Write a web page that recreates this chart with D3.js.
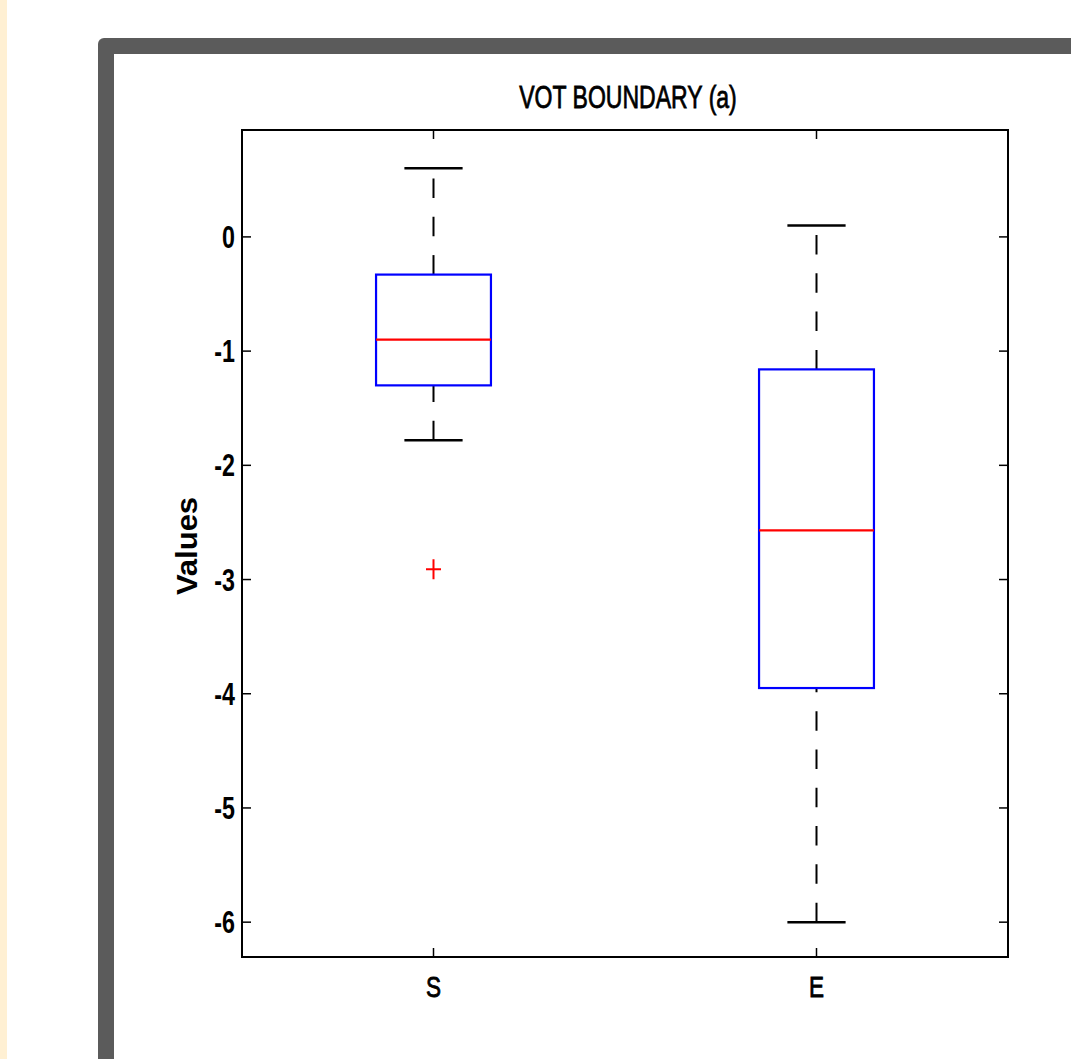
<!DOCTYPE html>
<html>
<head>
<meta charset="utf-8">
<script src="https://cdn.jsdelivr.net/npm/d3@7"></script>
<style>
  html, body { margin: 0; padding: 0; background: #ffffff; }
  svg { display: block; }
  text { font-family: "Liberation Sans", Arial, Helvetica, sans-serif; fill: #000; }
</style>
</head>
<body>
<svg id="chart" width="1071" height="1059"></svg>
<script>
// Box plot statistics for each group
const categories   = ["S", "E"];
const upperWhisker = [0.60, 0.10];
const q3           = [-0.33, -1.16];
const medians      = [-0.90, -2.57];
const q1           = [-1.30, -3.95];
const lowerWhisker = [-1.78, -6.00];
const outliers     = [[-2.91], []];
const yTicks       = [0, -1, -2, -3, -4, -5, -6];
const yTickLabels  = ["0", "-1", "-2", "-3", "-4", "-5", "-6"];
const titleText    = "VOT BOUNDARY (a)";
const yLabelText   = "Values";

const svg = d3.select("#chart");
const W = 1071, H = 1059;

// page decoration: side strip and dark panel frame
svg.append("rect").attr("x", 0).attr("y", 0).attr("width", 7).attr("height", H).attr("fill", "#fff0d3");
svg.append("rect").attr("x", 98).attr("y", 38).attr("width", W - 98 + 20).attr("height", H - 38 + 20)
  .attr("rx", 6).attr("fill", "#5b5b5b");
svg.append("rect").attr("x", 114).attr("y", 54).attr("width", W - 114 + 20).attr("height", H - 54 + 20)
  .attr("fill", "#ffffff");

// plot area
const plot = { left: 242, top: 130, right: 1008, bottom: 957 };
const squeeze = 0.75;

const x = d3.scaleLinear().domain([0.5, categories.length + 0.5]).range([plot.left, plot.right]);
const y = d3.scaleLinear().domain([-6.305, 0.936]).range([plot.bottom, plot.top]);

const boxHalf = 0.15, capHalf = 0.076;

const g = svg.append("g");

// ticks (inside, on all four sides)
const tickLen = 9;
const ticks = g.append("g").attr("stroke", "#000").attr("stroke-width", 1.5);
yTicks.forEach(t => {
  ticks.append("line").attr("x1", plot.left).attr("x2", plot.left + tickLen).attr("y1", y(t)).attr("y2", y(t));
  ticks.append("line").attr("x1", plot.right).attr("x2", plot.right - tickLen).attr("y1", y(t)).attr("y2", y(t));
});
categories.forEach((c, i) => {
  const cx = x(i + 1);
  ticks.append("line").attr("x1", cx).attr("x2", cx).attr("y1", plot.bottom).attr("y2", plot.bottom - tickLen);
  ticks.append("line").attr("x1", cx).attr("x2", cx).attr("y1", plot.top).attr("y2", plot.top + tickLen);
});

// y tick labels
yTicks.forEach((t, k) => {
  g.append("text")
    .attr("transform", `translate(235,${y(t) + 11}) scale(${squeeze},1)`)
    .attr("text-anchor", "end")
    .attr("font-size", 31).attr("font-weight", "bold")
    .text(yTickLabels[k]);
});

// x tick labels
categories.forEach((c, i) => {
  g.append("text")
    .attr("transform", `translate(${x(i + 1)},997) scale(${squeeze},1)`)
    .attr("text-anchor", "middle")
    .attr("font-size", 30)
    .attr("stroke", "#000").attr("stroke-width", 0.9)
    .text(c);
});

// boxes
categories.forEach((c, i) => {
  const cx = x(i + 1);
  const bg = g.append("g");
  const dash = "19.5 18.8";
  // whiskers: each runs from its lower value to its upper value
  bg.append("line").attr("x1", cx).attr("x2", cx).attr("y1", y(q3[i])).attr("y2", y(upperWhisker[i]))
    .attr("stroke", "#000").attr("stroke-width", 2).attr("stroke-dasharray", dash);
  bg.append("line").attr("x1", cx).attr("x2", cx).attr("y1", y(lowerWhisker[i])).attr("y2", y(q1[i]))
    .attr("stroke", "#000").attr("stroke-width", 2).attr("stroke-dasharray", dash);
  // caps
  [upperWhisker[i], lowerWhisker[i]].forEach(v => {
    bg.append("line").attr("x1", x(i + 1 - capHalf)).attr("x2", x(i + 1 + capHalf))
      .attr("y1", y(v)).attr("y2", y(v)).attr("stroke", "#000").attr("stroke-width", 2.5);
  });
  // box
  bg.append("rect").attr("x", x(i + 1 - boxHalf)).attr("y", y(q3[i]))
    .attr("width", x(i + 1 + boxHalf) - x(i + 1 - boxHalf)).attr("height", y(q1[i]) - y(q3[i]))
    .attr("fill", "none").attr("stroke", "#0000ff").attr("stroke-width", 2.2);
  // median
  bg.append("line").attr("x1", x(i + 1 - boxHalf)).attr("x2", x(i + 1 + boxHalf))
    .attr("y1", y(medians[i])).attr("y2", y(medians[i])).attr("stroke", "#ff0000").attr("stroke-width", 2.2);
  // outliers
  outliers[i].forEach(v => {
    const oy = y(v);
    bg.append("line").attr("x1", cx - 7.5).attr("x2", cx + 7.5).attr("y1", oy).attr("y2", oy)
      .attr("stroke", "#ff0000").attr("stroke-width", 2);
    bg.append("line").attr("x1", cx).attr("x2", cx).attr("y1", oy - 10).attr("y2", oy + 10)
      .attr("stroke", "#ff0000").attr("stroke-width", 2);
  });
});

// axes frame
g.append("rect").attr("x", plot.left).attr("y", plot.top)
  .attr("width", plot.right - plot.left).attr("height", plot.bottom - plot.top)
  .attr("fill", "none").attr("stroke", "#000").attr("stroke-width", 2);

// title
g.append("text")
  .attr("transform", `translate(${(plot.left + plot.right) / 2 + 3},108) scale(${0.72},1)`)
  .attr("text-anchor", "middle")
  .attr("font-size", 32)
  .attr("stroke", "#000").attr("stroke-width", 0.8)
  .text(titleText);

// y axis label
g.append("text")
  .attr("transform", `translate(197,546) scale(0.95,1) rotate(-90)`)
  .attr("text-anchor", "middle")
  .attr("font-size", 31).attr("font-weight", "bold")
  .text(yLabelText);
</script>
</body>
</html>
